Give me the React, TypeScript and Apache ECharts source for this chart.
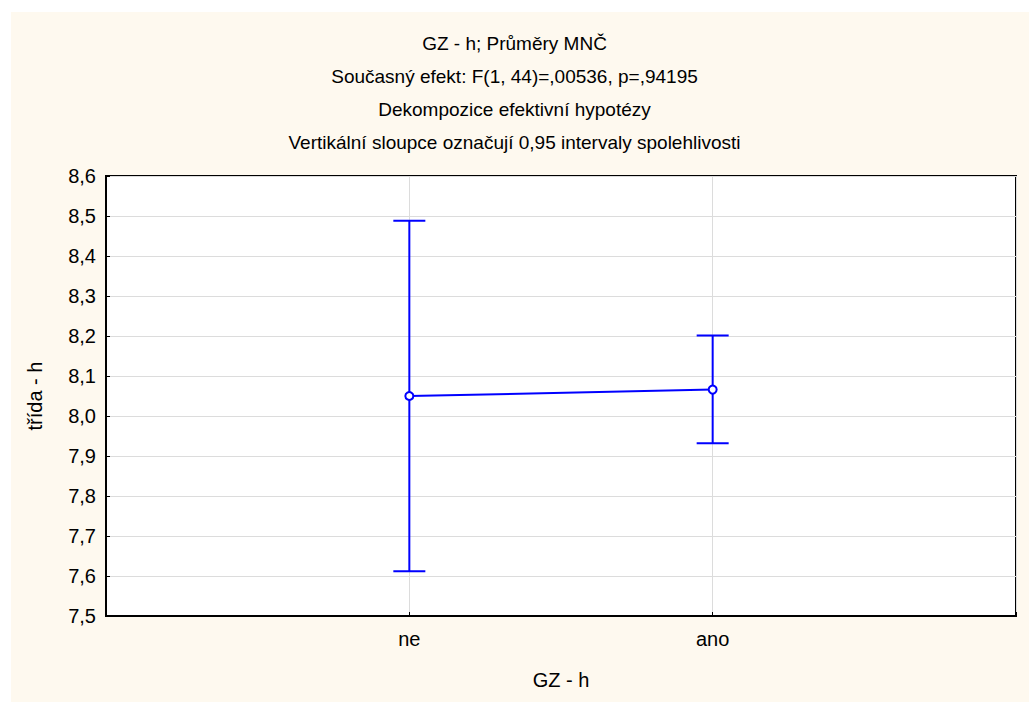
import React, { useEffect, useRef } from "react";
import * as echarts from "echarts";

const titleLines = [
  "GZ - h; Průměry MNČ",
  "Současný efekt: F(1, 44)=,00536, p=,94195",
  "Dekompozice efektivní hypotézy",
  "Vertikální sloupce označují 0,95 intervaly spolehlivosti",
];
const categories = ["", "ne", "ano", ""];
const groupIndex = [1, 2];
const means = [8.05, 8.066];
const lowerCI = [7.612, 7.932];
const upperCI = [8.488, 8.201];
const xAxisName = "GZ - h";
const yAxisName = "třída - h";

const FONT = "'Liberation Sans', Arial, sans-serif";
const BLUE = "#0000FF";

export default function App() {
  const ref = useRef<HTMLDivElement>(null);
  useEffect(() => {
    if (!ref.current) return;
    const chart = echarts.init(ref.current, null, { renderer: "svg" });
    const errData = groupIndex.map((g, i) => [g, lowerCI[i], upperCI[i]]);
    const lineData = groupIndex.map((g, i) => [g, means[i]]);
    chart.setOption({
      animation: false,
      textStyle: { fontFamily: FONT },
      graphic: [
        {
          type: "rect",
          shape: { x: 11, y: 12, width: 1018, height: 690 },
          style: { fill: "#FEF9EF" },
          z: -10,
          silent: true,
        },
      ],
      title: {
        text: titleLines.join("\n"),
        left: "center",
        top: 22,
        textStyle: {
          fontFamily: FONT,
          fontSize: 19,
          fontWeight: "normal",
          color: "#000",
          lineHeight: 33,
        },
      },
      grid: {
        left: 106,
        top: 176,
        width: 910,
        height: 440,
        show: true,
        backgroundColor: "#fff",
        borderColor: "#000",
        borderWidth: 2,
      },
      xAxis: {
        type: "category",
        data: categories,
        boundaryGap: false,
        name: xAxisName,
        nameLocation: "middle",
        nameGap: 54,
        nameTextStyle: { fontFamily: FONT, fontSize: 20, color: "#000" },
        axisLine: { show: true, lineStyle: { color: "#000", width: 2 } },
        axisTick: { show: true, inside: true, length: 4, lineStyle: { color: "#000" } },
        axisLabel: { fontFamily: FONT, fontSize: 20, color: "#000", margin: 13 },
        splitLine: { show: true, lineStyle: { color: "#dcdcdc", width: 1 } },
      },
      yAxis: {
        type: "value",
        min: 7.5,
        max: 8.6,
        interval: 0.1,
        name: yAxisName,
        nameLocation: "middle",
        nameGap: 61,
        nameTextStyle: { fontFamily: FONT, fontSize: 20, color: "#000" },
        axisLine: { show: true, lineStyle: { color: "#000", width: 2 } },
        axisTick: { show: true, inside: true, length: 4, lineStyle: { color: "#000" } },
        axisLabel: {
          fontFamily: FONT,
          fontSize: 20,
          color: "#000",
          margin: 10,
          formatter: (v: number) => v.toFixed(1).replace(".", ","),
        },
        splitLine: { show: true, lineStyle: { color: "#dcdcdc", width: 1 } },
      },
      series: [
        {
          type: "custom",
          data: errData,
          encode: { x: 0, y: [1, 2] },
          z: 3,
          renderItem: (params: any, api: any) => {
            const x = api.value(0);
            const lo = api.coord([x, api.value(1)]);
            const hi = api.coord([x, api.value(2)]);
            const hw = 16;
            const style = { stroke: BLUE, lineWidth: 2, fill: "none" };
            return {
              type: "group",
              children: [
                { type: "line", shape: { x1: lo[0], y1: lo[1], x2: hi[0], y2: hi[1] }, style },
                { type: "line", shape: { x1: hi[0] - hw, y1: hi[1], x2: hi[0] + hw, y2: hi[1] }, style },
                { type: "line", shape: { x1: lo[0] - hw, y1: lo[1], x2: lo[0] + hw, y2: lo[1] }, style },
              ],
            };
          },
        },
        {
          type: "line",
          data: lineData,
          z: 4,
          symbol: "circle",
          symbolSize: 8,
          itemStyle: { color: "#fff", borderColor: BLUE, borderWidth: 2 },
          lineStyle: { color: BLUE, width: 2 },
        },
      ],
    });
    return () => chart.dispose();
  }, []);
  return (
    <div
      ref={ref}
      style={{ position: "fixed", left: 0, top: 0, width: 1029, height: 702, background: "#fff" }}
    />
  );
}
